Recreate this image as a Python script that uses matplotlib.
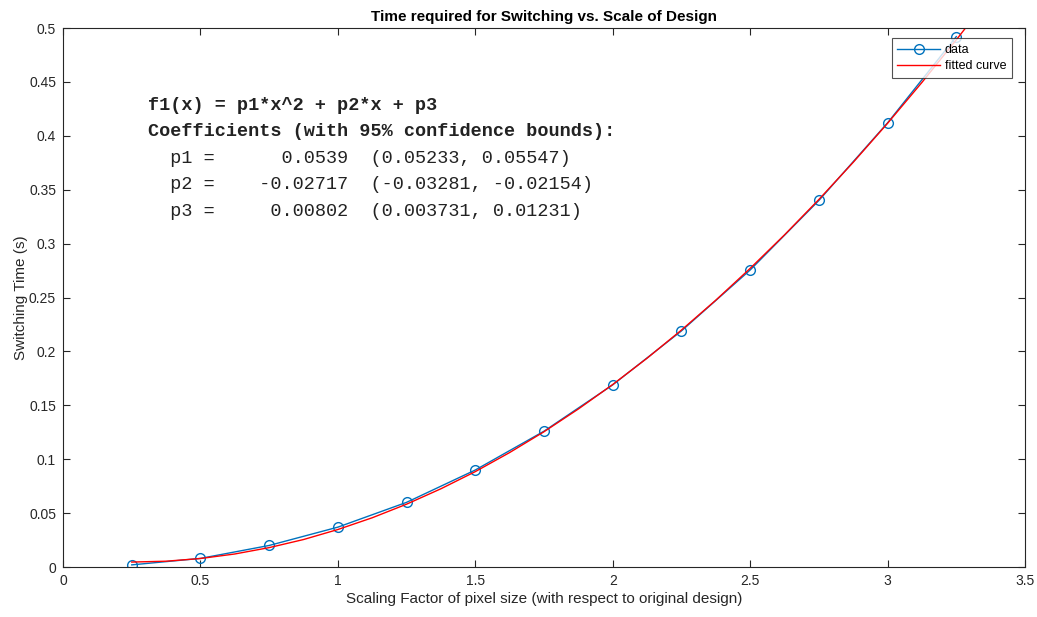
import matplotlib
matplotlib.use("Agg")
import matplotlib.pyplot as plt

# measured points
scale = [0.25, 0.5, 0.75, 1.0, 1.25, 1.5, 1.75, 2.0, 2.25, 2.5, 2.75, 3.0, 3.25]
switch_time = [0.002, 0.008, 0.020, 0.037, 0.060, 0.090, 0.126, 0.169, 0.219,
               0.2755, 0.340, 0.412, 0.492]

# fitted curve, sampled
fit_x = [0.25, 0.375, 0.5, 0.625, 0.75, 0.875, 1.0, 1.125, 1.25, 1.375, 1.5, 1.625,
         1.75, 1.875, 2.0, 2.125, 2.25, 2.375, 2.5, 2.625, 2.75, 2.875, 3.0, 3.125,
         3.25, 3.3]
fit_y = [0.0046, 0.0054, 0.0079, 0.0121, 0.0180, 0.0255, 0.0348, 0.0457, 0.0583,
         0.0726, 0.0885, 0.1062, 0.1255, 0.1466, 0.1693, 0.1937, 0.2198, 0.2475,
         0.2770, 0.3081, 0.3409, 0.3754, 0.4116, 0.4495, 0.4890, 0.5053]

fit_text = ["f1(x) = p1*x^2 + p2*x + p3",
            "Coefficients (with 95% confidence bounds):",
            "  p1 =      0.0539  (0.05233, 0.05547)",
            "  p2 =    -0.02717  (-0.03281, -0.02154)",
            "  p3 =     0.00802  (0.003731, 0.01231)"]

plt.rcParams['font.family'] = ['Liberation Sans', 'DejaVu Sans']
fig = plt.figure(figsize=(10.37, 6.17), dpi=100)
ax = fig.add_axes([0.0608, 0.081, 0.9276, 0.8736])

ax.plot(scale, switch_time, '-o', color='#0072BD', lw=1, ms=7, mfc='none',
        mew=1, label='data')
ax.plot(fit_x, fit_y, '-', color='red', lw=1, label='fitted curve')

ax.set_xlim(0, 3.5)
ax.set_ylim(0, 0.5)
ax.set_xticks([0, 0.5, 1, 1.5, 2, 2.5, 3, 3.5])
ax.set_xticklabels(['0', '0.5', '1', '1.5', '2', '2.5', '3', '3.5'])
ax.set_yticks([0, 0.05, 0.1, 0.15, 0.2, 0.25, 0.3, 0.35, 0.4, 0.45, 0.5])
ax.set_yticklabels(['0', '0.05', '0.1', '0.15', '0.2', '0.25', '0.3', '0.35',
                    '0.4', '0.45', '0.5'])
ax.tick_params(direction='in', top=True, right=True, length=5, width=0.8,
               labelsize=10, colors='#262626', pad=5)
for s in ax.spines.values():
    s.set_color('#262626')
    s.set_linewidth(0.8)

ax.set_xlabel('Scaling Factor of pixel size (with respect to original design)',
              fontsize=11, color='#262626', labelpad=3)
ax.set_ylabel('Switching Time (s)', fontsize=11, color='#262626', labelpad=1)
ax.set_title('Time required for Switching vs. Scale of Design', fontsize=11,
             fontweight='bold', color='black', pad=5)

for i, line in enumerate(fit_text):
    ax.text(0.309, 0.4285 - i * 0.0247, line, family='Liberation Mono',
            fontsize=13.3, fontweight='bold' if i < 2 else 'normal',
            color='#222222', va='center', ha='left')

leg = ax.legend(loc='upper right', bbox_to_anchor=(0.9865, 0.981), fontsize=9,
                frameon=True, fancybox=False, borderpad=0.45, labelspacing=0.35,
                handlelength=3.4, handletextpad=0.4, borderaxespad=0)
leg.get_frame().set_edgecolor('#262626')
leg.get_frame().set_linewidth(0.8)

fig.savefig('out.png', dpi=100)
